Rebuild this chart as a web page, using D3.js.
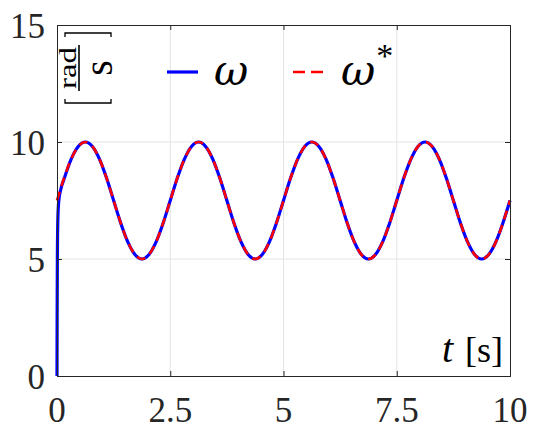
<!DOCTYPE html>
<html>
<head>
<meta charset="utf-8">
<script src="https://d3js.org/d3.v7.min.js"></script>
<style>
  body { margin: 0; background: #fff; }
</style>
</head>
<body>
<div id="chart"></div>
<script>
// sample times [s] and reference speed
var tRef = [0, 0.156, 0.313, 0.469, 0.625, 0.781, 0.938, 1.094, 1.25, 1.406, 1.563, 1.719, 1.875, 2.031, 2.188, 2.344,
  2.5, 2.656, 2.813, 2.969, 3.125, 3.281, 3.438, 3.594, 3.75, 3.906, 4.063, 4.219, 4.375, 4.531, 4.688, 4.844,
  5, 5.156, 5.313, 5.469, 5.625, 5.781, 5.938, 6.094, 6.25, 6.406, 6.563, 6.719, 6.875, 7.031, 7.188, 7.344,
  7.5, 7.656, 7.813, 7.969, 8.125, 8.281, 8.438, 8.594, 8.75, 8.906, 9.063, 9.219, 9.375, 9.531, 9.688, 9.844, 10];
var omegaRef = [7.5, 8.46, 9.27, 9.81, 10, 9.81, 9.27, 8.46, 7.5, 6.54, 5.73, 5.19, 5, 5.19, 5.73, 6.54,
  7.5, 8.46, 9.27, 9.81, 10, 9.81, 9.27, 8.46, 7.5, 6.54, 5.73, 5.19, 5, 5.19, 5.73, 6.54,
  7.5, 8.46, 9.27, 9.81, 10, 9.81, 9.27, 8.46, 7.5, 6.54, 5.73, 5.19, 5, 5.19, 5.73, 6.54,
  7.5, 8.46, 9.27, 9.81, 10, 9.81, 9.27, 8.46, 7.5, 6.54, 5.73, 5.19, 5, 5.19, 5.73, 6.54, 7.5];

// measured speed: fast start-up from zero, then tracks the reference
var tStart = [0, 0.003, 0.008, 0.02, 0.04, 0.08];
var omegaStart = [0, 2.5, 5, 6.8, 7.5, 7.95];
var tMeas = tStart.concat(tRef.slice(1));
var omegaMeas = omegaStart.concat([8.42]).concat(omegaRef.slice(2));

var xTicks = [0, 2.5, 5, 7.5, 10];
var xTickLabels = ["0", "2.5", "5", "7.5", "10"];
var yTicks = [0, 5, 10, 15];
var yTickLabels = ["0", "5", "10", "15"];

var svgWidth = 540, svgHeight = 434;
var margin = { top: 25, right: 30, bottom: 58, left: 57 };
var width = svgWidth - margin.left - margin.right;
var height = svgHeight - margin.top - margin.bottom;
var axisColor = "#262626";
var textFont = "Liberation Serif";
var mathFont = "DejaVu Serif";

var svg = d3.select("#chart").append("svg")
  .attr("width", svgWidth)
  .attr("height", svgHeight)
  .attr("font-family", textFont);

var g = svg.append("g")
  .attr("transform", `translate(${margin.left}, ${margin.top})`);

var x = d3.scaleLinear().domain([0, 10]).range([0, width]);
var y = d3.scaleLinear().domain([0, 15]).range([height, 0]);

// grid
g.selectAll(".gx").data(xTicks.slice(1, -1)).enter().append("line")
  .attr("x1", d => x(d)).attr("x2", d => x(d))
  .attr("y1", 0).attr("y2", height)
  .attr("stroke", "#e3e3e3").attr("stroke-width", 1);
g.selectAll(".gy").data(yTicks.slice(1, -1)).enter().append("line")
  .attr("x1", 0).attr("x2", width)
  .attr("y1", d => y(d)).attr("y2", d => y(d))
  .attr("stroke", "#e3e3e3").attr("stroke-width", 1);

// lines
var lineMeas = d3.line()
  .x((d, i) => x(tMeas[i]))
  .y(d => y(d))
  .curve(d3.curveMonotoneX);
var lineRef = d3.line()
  .x((d, i) => x(tRef[i]))
  .y(d => y(d))
  .curve(d3.curveMonotoneX);

g.append("path").datum(omegaMeas)
  .attr("d", lineMeas)
  .attr("fill", "none")
  .attr("stroke", "#0000ff")
  .attr("stroke-width", 3.2);

g.append("path").datum(omegaRef)
  .attr("d", lineRef)
  .attr("fill", "none")
  .attr("stroke", "#ff0000")
  .attr("stroke-width", 2.6)
  .attr("stroke-dasharray", "9,6");

// axes (box with inward ticks)
var tickLen = 5;
var xAxis = d3.axisBottom(x).tickValues(xTicks).tickSize(-tickLen).tickFormat("");
var xAxisTop = d3.axisTop(x).tickValues(xTicks).tickSize(-tickLen).tickFormat("");
var yAxis = d3.axisLeft(y).tickValues(yTicks).tickSize(-tickLen).tickFormat("");
var yAxisRight = d3.axisRight(y).tickValues(yTicks).tickSize(-tickLen).tickFormat("");

g.append("g").attr("transform", `translate(0, ${height})`).call(xAxis);
g.append("g").call(xAxisTop);
g.append("g").call(yAxis);
g.append("g").attr("transform", `translate(${width}, 0)`).call(yAxisRight);
g.selectAll(".domain, .tick line").attr("stroke", axisColor).attr("stroke-width", 1);

// tick labels
g.selectAll(".xl").data(xTicks).enter().append("text")
  .attr("class", "xl")
  .attr("x", d => x(d))
  .attr("y", height + 46)
  .attr("text-anchor", "middle")
  .attr("font-family", textFont)
  .attr("font-size", 35)
  .attr("fill", axisColor)
  .text((d, i) => xTickLabels[i]);
g.selectAll(".yl").data(yTicks).enter().append("text")
  .attr("class", "yl")
  .attr("x", -12)
  .attr("y", d => y(d) + 13)
  .attr("text-anchor", "end")
  .attr("font-family", textFont)
  .attr("font-size", 35)
  .attr("fill", axisColor)
  .text((d, i) => yTickLabels[i]);

// x label: t [s]
var xl = svg.append("text")
  .attr("x", 503)
  .attr("y", 362)
  .attr("text-anchor", "end")
  .attr("fill", "#000")
  .attr("font-family", textFont)
  .attr("font-size", 36);
xl.append("tspan").attr("font-style", "italic").attr("font-size", 40).text("t");
xl.append("tspan").attr("dx", 12).text("[s]");

// y unit label [rad/s], rotated
var yu = svg.append("g").attr("transform", "translate(86, 68) rotate(-90)");
yu.append("path")
  .attr("d", "M-31,-21 L-35,-21 L-35,25 L-31,25 M31,-21 L35,-21 L35,25 L31,25")
  .attr("fill", "none").attr("stroke", "#000").attr("stroke-width", 1.3);
yu.append("line")
  .attr("x1", -23).attr("x2", 23).attr("y1", -7).attr("y2", -7)
  .attr("stroke", "#000").attr("stroke-width", 1.6);
yu.append("text")
  .attr("x", 0).attr("y", -10)
  .attr("text-anchor", "middle")
  .attr("font-family", textFont)
  .attr("font-size", 25)
  .attr("textLength", 42)
  .attr("lengthAdjust", "spacingAndGlyphs")
  .text("rad");
yu.append("text")
  .attr("x", 0).attr("y", 26)
  .attr("text-anchor", "middle")
  .attr("font-family", textFont)
  .attr("font-size", 40)
  .text("s");

// legend
var legend = svg.append("g");
legend.append("line")
  .attr("x1", 167).attr("x2", 198).attr("y1", 72).attr("y2", 72)
  .attr("stroke", "#0000ff").attr("stroke-width", 3.2);
legend.append("text")
  .attr("x", 214).attr("y", 85)
  .attr("font-family", mathFont)
  .attr("font-size", 42).attr("font-style", "italic")
  .text("\u03c9");
legend.append("line")
  .attr("x1", 293).attr("x2", 324).attr("y1", 72).attr("y2", 72)
  .attr("stroke", "#ff0000").attr("stroke-width", 2.6)
  .attr("stroke-dasharray", "12,6");
var ws = legend.append("text")
  .attr("x", 341).attr("y", 85)
  .attr("font-family", mathFont)
  .attr("font-size", 42).attr("font-style", "italic");
ws.append("tspan").text("\u03c9");
ws.append("tspan").attr("dy", -18).attr("dx", 1)
  .attr("font-family", textFont).attr("font-size", 34).attr("font-style", "normal").text("*");
</script>
</body>
</html>
